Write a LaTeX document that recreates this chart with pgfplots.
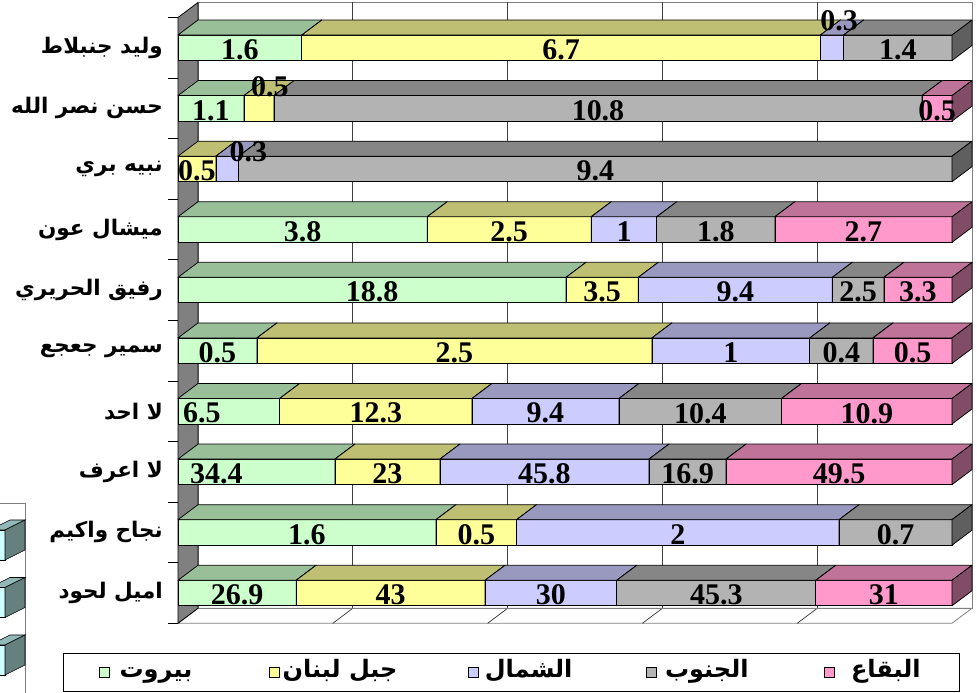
\documentclass[border=0pt]{standalone}
\usepackage{pgfplots}
\pgfplotsset{compat=1.18}
\usepackage{pgfplotstable}
\usepackage{fontspec}
\setmainfont{Liberation Serif}
\newfontfamily\arabicfont[Script=Arabic]{DejaVu Sans}
\TeXXeTstate=1

% face colours: front, top (shaded), side (darker)
\definecolor{bF}{HTML}{CCFFCC}\colorlet{bT}{bF!75!black}\colorlet{bS}{bF!50!black}
\definecolor{jF}{HTML}{FFFF99}\colorlet{jT}{jF!75!black}\colorlet{jS}{jF!50!black}
\definecolor{sF}{HTML}{CCCCFF}\colorlet{sT}{sF!75!black}\colorlet{sS}{sF!50!black}
\definecolor{gF}{HTML}{B3B3B3}\colorlet{gT}{gF!75!black}\colorlet{gS}{gF!53!black}
\definecolor{qF}{HTML}{FF99CC}\colorlet{qT}{qF!75!black}\colorlet{qS}{qF!50!black}
\definecolor{cF}{HTML}{CCFFFF}\colorlet{cT}{cF!72!black}\colorlet{cS}{cF!50!black}
\definecolor{wallgray}{HTML}{808080}

\newcommand\labfont{\fontsize{30}{30}\selectfont\bfseries}
\pgfdeclareplotmark{blank}{}

% answers by region (b: Beirut, j: Mount Lebanon, s: North, g: South, q: Bekaa)
% rows from bottom (1) to top (10); *dx/*dy move a crowded label
\pgfplotstableread{
y  b     j     s     g     q     z  bdx jdx jdy sdx sdy
1  26.9  43    30    45.3  31    0  0   0   0   0   0
2  1.6   0.5   2     0.7   0     0  0   0   0   0   0
3  34.4  23    45.8  16.9  49.5  0  -40 0   0   0   0
4  6.5   12.3  9.4   10.4  10.9  0  -27 0   0   0   0
5  0.5   2.5   1     0.4   0.5   0  0   0   0   0   0
6  18.8  3.5   9.4   2.5   3.3   0  0   0   0   0   0
7  3.8   2.5   1     1.8   2.7   0  0   0   0   0   0
8  0     0.5   0.3   9.4   0     0  0   0   0   21  19
9  1.1   0.5   0     10.8  0.5   0  0   11  24  0   0
10 1.6   6.7   0.3   1.4   0     0  0   0   0   7   29
}\poll

% shares of each row (100% stacked) and cumulative right ends
\pgfplotstablecreatecol[create col/expr={\thisrow{b}+\thisrow{j}+\thisrow{s}+\thisrow{g}+\thisrow{q}}]{tot}{\poll}
\pgfplotstablecreatecol[create col/expr={100*\thisrow{b}/\thisrow{tot}}]{pb}{\poll}
\pgfplotstablecreatecol[create col/expr={100*\thisrow{j}/\thisrow{tot}}]{pj}{\poll}
\pgfplotstablecreatecol[create col/expr={100*\thisrow{s}/\thisrow{tot}}]{ps}{\poll}
\pgfplotstablecreatecol[create col/expr={100*\thisrow{g}/\thisrow{tot}}]{pg}{\poll}
\pgfplotstablecreatecol[create col/expr={100*\thisrow{q}/\thisrow{tot}}]{pq}{\poll}
\pgfplotstablecreatecol[create col/expr={\thisrow{pb}}]{eb}{\poll}
\pgfplotstablecreatecol[create col/expr={\thisrow{eb}+\thisrow{pj}}]{ej}{\poll}
\pgfplotstablecreatecol[create col/expr={\thisrow{ej}+\thisrow{ps}}]{es}{\poll}
\pgfplotstablecreatecol[create col/expr={\thisrow{es}+\thisrow{pg}}]{eg}{\poll}
\pgfplotstablecreatecol[create col/expr={\thisrow{eg}+\thisrow{pq}}]{eq}{\poll}

\pgfplotsset{
  % a 3-D bar segment: front face, top face, right side face
  seg/.style n args={4}{%
    only marks, mark=blank, scatter,
    visualization depends on={\thisrow{p#4} \as \segw},
    scatter/@pre marker code/.code={%
      \pgfkeys{/pgf/fpu=true,/pgf/fpu/output format=fixed}%
      \pgfmathsetmacro\segW{\segw*\pgfplotsunitxlength}%
      \pgfmathsetmacro\segB{20-\segW}%
      \pgfmathsetmacro\segOn{\segw>0.001}%
      \pgfkeys{/pgf/fpu=false}%
      \ifdim\segOn pt>0.5pt
        \filldraw[fill=#1,draw=black,line width=0.75pt]
          (-\segW pt,-12.75pt) rectangle (0pt,12.75pt);
        \filldraw[fill=#2,draw=black,line width=0.75pt,line join=round]
          (-\segW pt,12.75pt) -- (0pt,12.75pt) -- (20pt,27.75pt) -- (\segB pt,27.75pt) -- cycle;
        \filldraw[fill=#3,draw=black,line width=0.75pt,line join=round]
          (0pt,-12.75pt) -- (20pt,2.25pt) -- (20pt,27.75pt) -- (0pt,12.75pt) -- cycle;
      \fi
    },
    scatter/@post marker code/.code={},
    legend image code/.code={%
      \filldraw[fill=#1,draw=black,line width=0.6pt] (0pt,-5pt) rectangle (10pt,5pt);},
  },
  % value label on a segment's front face
  lab/.style n args={3}{%
    only marks, mark=blank, scatter, forget plot,
    point meta=explicit symbolic,
    visualization depends on={\thisrow{p#1} \as \segw},
    visualization depends on={\thisrow{#2} \as \labdx},
    visualization depends on={\thisrow{#3} \as \labdy},
    scatter/@pre marker code/.code={%
      \pgfkeys{/pgf/fpu=true,/pgf/fpu/output format=fixed}%
      \pgfmathsetmacro\labX{-0.5*\segw*\pgfplotsunitxlength+\labdx}%
      \pgfmathsetmacro\labY{-2+\labdy}%
      \pgfmathsetmacro\segOn{\segw>0.001}%
      \pgfkeys{/pgf/fpu=false}%
      \ifdim\segOn pt>0.5pt
        \node[font=\labfont,inner sep=0pt] at (\labX pt,\labY pt) {\pgfplotspointmeta};
      \fi
    },
    scatter/@post marker code/.code={},
  },
}

\begin{document}
\begin{tikzpicture}
\useasboundingbox (0,0) rectangle (977pt,693pt);

% floor
\filldraw[fill=white,draw=wallgray,line width=0.8pt]
  (178pt,69.7pt) -- (198pt,84.7pt) -- (972pt,84.7pt) -- (952pt,69.7pt) -- cycle;
\foreach \k in {1,...,4}
  \draw[black!80,line width=0.7pt] ({(178+154.8*\k)*1pt},69.7pt) -- ({(198+154.8*\k)*1pt},84.7pt);
% back wall with its gridlines
\draw[wallgray,line width=0.8pt] (198pt,84.7pt) rectangle (972pt,690.5pt);
\foreach \k in {1,...,4}
  \draw[black!75,line width=0.7pt] ({(198+154.8*\k)*1pt},84.7pt) -- ({(198+154.8*\k)*1pt},690.5pt);
% side wall
\filldraw[fill=wallgray,draw=black,line width=0.8pt]
  (178pt,69.7pt) -- (178pt,675.5pt) -- (198pt,690.5pt) -- (198pt,84.7pt) -- cycle;

% neighbouring legend keys at the left margin
\draw[wallgray,line width=0.8pt] (-1pt,190pt) -- (25pt,190pt) -- (25pt,-1pt);
\foreach \i in {0,1,2} {
  \pgfmathsetmacro\T{163-57.5*\i}
  \pgfmathsetmacro\B{\T-30}
  \filldraw[fill=cF,draw=black,line width=0.6pt] (-10pt,\B pt) rectangle (5pt,\T pt);
  \filldraw[fill=cT,draw=black,line width=0.6pt] (-10pt,\T pt) -- (5pt,\T pt) -- (25pt,{(\T+10)*1pt}) -- (10pt,{(\T+10)*1pt}) -- cycle;
  \filldraw[fill=cS,draw=black,line width=0.6pt] (5pt,\B pt) -- (25pt,{(\B+10)*1pt}) -- (25pt,{(\T+10)*1pt}) -- (5pt,\T pt) -- cycle;
}

\begin{axis}[
  at={(178pt,69.7pt)}, anchor=south west,
  width=774pt, height=605.8pt, scale only axis,
  xmin=0, xmax=100, ymin=0.5, ymax=10.5,
  clip=false,
  axis line style={draw=none},
  xtick=\empty,
  major tick length=0pt,
  ytick pos=left,
  ytick={1,...,10},
  yticklabels={{\beginR اميل لحود\endR},{\beginR نجاح واكيم\endR},{\beginR لا اعرف\endR},
    {\beginR لا احد\endR},{\beginR سمير جعجع\endR},{\beginR رفيق الحريري\endR},
    {\beginR ميشال عون\endR},{\beginR نبيه بري\endR},{\beginR حسن نصر الله\endR},
    {\beginR وليد جنبلاط\endR}},
  yticklabel style={font=\arabicfont\bfseries\fontsize{21.5}{21.5}\selectfont,
    anchor=east,inner sep=0pt,xshift=-15pt},
  extra y ticks={0.5,1.5,...,10.5},
  extra y tick labels={},
  extra y tick style={grid=none,major tick length=10pt,tick align=outside,
    tick style={draw=black,line width=0.8pt}},
  legend style={at={(-0.1486,-0.0804)},anchor=west,legend columns=5,
    draw=black,line width=0.8pt,
    font=\arabicfont\bfseries\fontsize{24}{24}\selectfont,
    nodes={inner xsep=0pt,inner ysep=0pt,text height=16pt,text depth=6pt},
    /tikz/every odd column/.append style={column sep=14pt},
    /tikz/every even column/.append style={column sep=81pt},
    inner xsep=36pt,inner ysep=8pt},
  legend cell align=left,
]
\addplot[seg={bF}{bT}{bS}{b}] table[x=eb,y=y] {\poll};
\addlegendentry{\makebox[64pt][c]{\beginR بيروت\endR}}
\addplot[seg={jF}{jT}{jS}{j}] table[x=ej,y=y] {\poll};
\addlegendentry{\makebox[93pt][c]{\beginR جبل لبنان\endR}}
\addplot[seg={sF}{sT}{sS}{s}] table[x=es,y=y] {\poll};
\addlegendentry{\makebox[73pt][c]{\beginR الشمال\endR}}
\addplot[seg={gF}{gT}{gS}{g}] table[x=eg,y=y] {\poll};
\addlegendentry{\makebox[72pt][c]{\beginR الجنوب\endR}}
\addplot[seg={qF}{qT}{qS}{q}] table[x=eq,y=y] {\poll};
\addlegendentry{\makebox[75pt][c]{\beginR البقاع\endR}}

\addplot[lab={b}{bdx}{z}] table[x=eb,y=y,meta=b] {\poll};
\addplot[lab={j}{jdx}{jdy}] table[x=ej,y=y,meta=j] {\poll};
\addplot[lab={s}{sdx}{sdy}] table[x=es,y=y,meta=s] {\poll};
\addplot[lab={g}{z}{z}] table[x=eg,y=y,meta=g] {\poll};
\addplot[lab={q}{z}{z}] table[x=eq,y=y,meta=q] {\poll};
\end{axis}
\end{tikzpicture}
\end{document}
